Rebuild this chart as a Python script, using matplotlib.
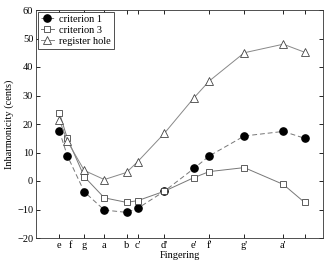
import matplotlib
matplotlib.use("Agg")
import matplotlib.pyplot as plt

# fingering positions along the x axis (label positions) and the data positions
tick_pos = [59.3, 70.7, 84.3, 104.3, 126.7, 137.7, 164.3, 194.3, 209.3, 244.3, 283.3, 304.5]
tick_labels = ["e", "f", "g", "a", "b", "c'", "d'", "e'", "f'", "g'", "a'", ""]
x = [59.3, 67.3, 84.3, 104.3, 126.5, 137.7, 164.3, 194.0, 209.3, 244.3, 283.3, 304.5]

criterion1 = [17.6, 8.9, -3.8, -10.2, -11.0, -9.6, -3.6, 4.4, 8.8, 15.8, 17.4, 15.0]
criterion3 = [24.0, 15.0, 1.5, -5.9, -7.5, -6.9, -3.6, 1.2, 3.3, 4.7, -1.2, -7.5]
register_hole = [21.5, 14.0, 3.7, 0.5, 3.0, 6.8, 16.7, 29.2, 35.1, 45.0, 48.0, 45.2]

plt.rcParams["font.family"] = ["Liberation Serif", "DejaVu Serif"]
plt.rcParams["font.size"] = 7.5

fig = plt.figure(figsize=(3.27, 2.63), dpi=100)
ax = fig.add_axes([36 / 327, 25 / 263, 287 / 327, 228 / 263])

ax.plot(x, criterion1, color="#777777", lw=0.7, ls=(0, (5, 3)),
        marker="o", ms=5.2, mfc="black", mec="black", label="criterion 1")
ax.plot(x, criterion3, color="#777777", lw=0.7, ls="-",
        marker="s", ms=4.6, mfc="white", mec="#444444", mew=0.6, label="criterion 3")
ax.plot(x, register_hole, color="#888888", lw=0.7, ls="-",
        marker="^", ms=5.5, mfc="white", mec="#444444", mew=0.6, label="register hole")

ax.set_xlim(36, 323)
ax.set_ylim(-20, 60)
ax.set_yticks(range(-20, 61, 10))
ax.set_xticks(tick_pos)
ax.set_xticklabels(tick_labels)
ax.tick_params(direction="in", length=3, width=0.6, top=True, right=True, pad=2)
for i in (1, 7):
    t = ax.xaxis.get_major_ticks()[i]
    t.tick1line.set_visible(False)
    t.tick2line.set_visible(False)
for s in ax.spines.values():
    s.set_linewidth(0.6)
    s.set_color("#333333")

ax.set_ylabel("Inharmonicity (cents)", labelpad=2)
ax.set_xlabel("Fingering", labelpad=1)

leg = ax.legend(loc="upper left", borderaxespad=0.15, handlelength=1.3,
                handletextpad=0.5, borderpad=0.3, labelspacing=0.15,
                fancybox=False, framealpha=1, edgecolor="#333333")
leg.get_frame().set_linewidth(0.6)

fig.savefig("out.png", dpi=100)
